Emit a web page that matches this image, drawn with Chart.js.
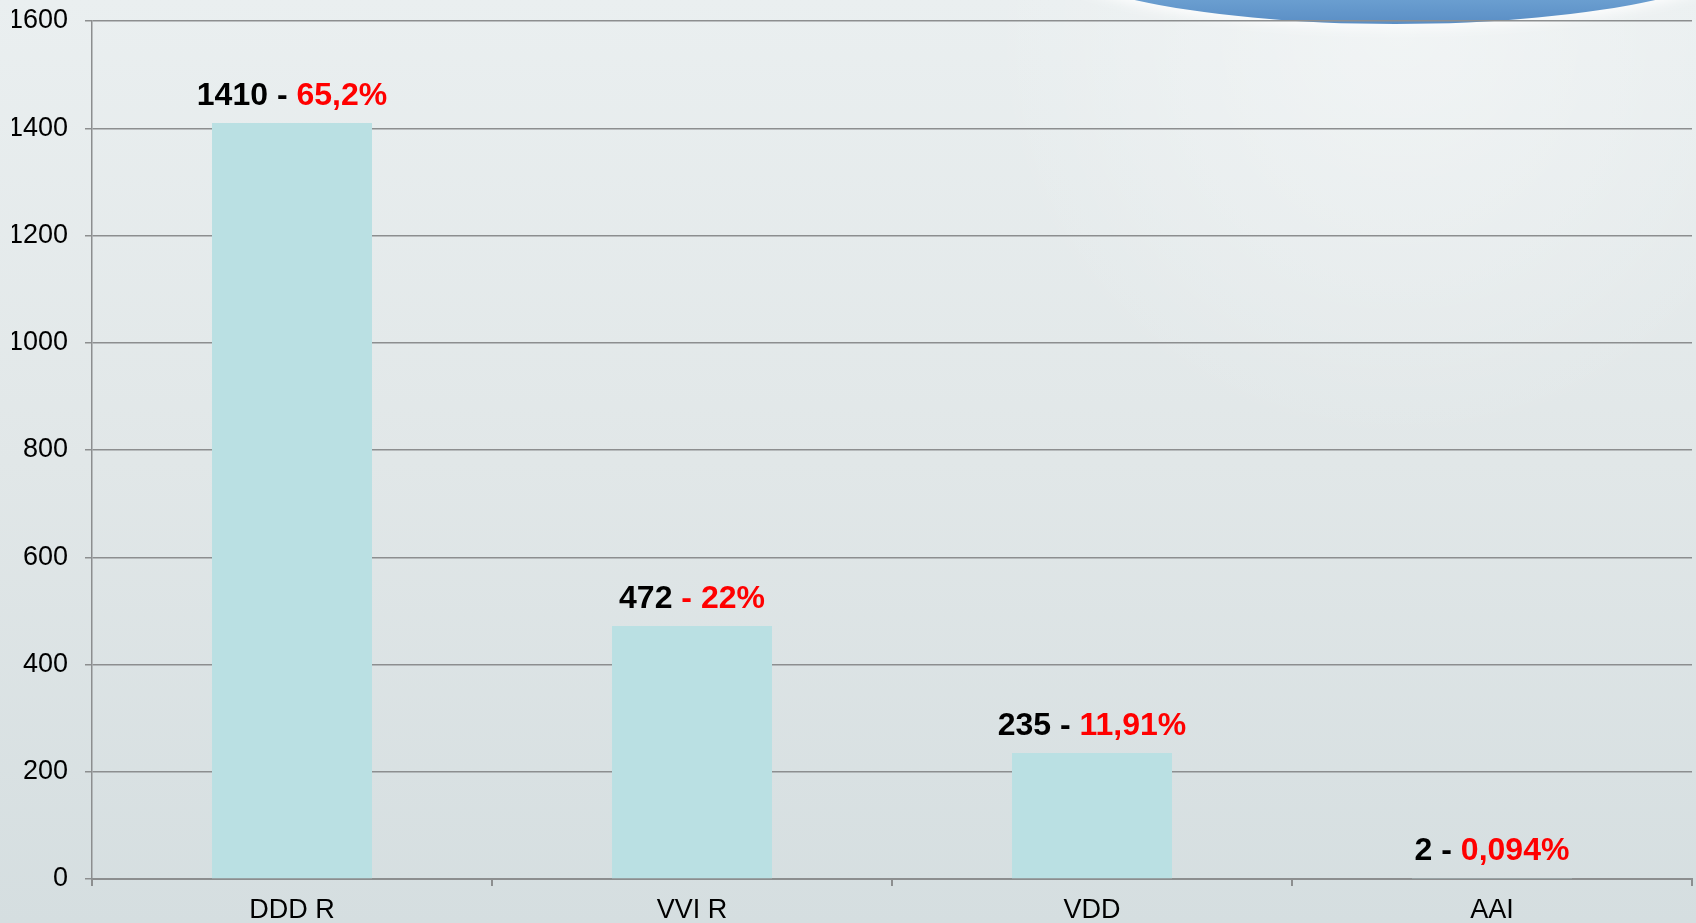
<!DOCTYPE html>
<html lang="en">
<head>
    <meta charset="UTF-8">
    <title>Stimulation modes</title>
    <script src="https://cdn.jsdelivr.net/npm/chart.js"></script>
    <style>
        body {
            margin: 0;
            padding: 0;
            overflow: hidden;
            background: #e2e8e9;
        }
        .wrap {
            width: 1696px;
            height: 923px;
        }
    </style>
</head>
<body>
    <div class="wrap">
        <canvas id="modesChart" width="1696" height="923"></canvas>
    </div>

    <script>
        // chart data
        const categories = ['DDD R', 'VVI R', 'VDD', 'AAI'];
        const counts = [1410, 472, 235, 2];
        const blackText = ['1410 - ', '472 ', '235 - ', '2 - '];
        const redText = ['65,2%', '- 22%', '11,91%', '0,094%'];
        const yTicks = [0, 200, 400, 600, 800, 1000, 1200, 1400, 1600];

        const FONT = "'Liberation Sans', Arial, sans-serif";
        const GRID = '#8c8e8f';

        // slide-like background with the blue shape at the top right
        const backdrop = {
            id: 'backdrop',
            beforeDraw(chart) {
                const c = chart.ctx;
                const w = chart.width, h = chart.height;
                c.save();
                let g = c.createLinearGradient(0, 0, 0, h);
                g.addColorStop(0, '#eaeff0');
                g.addColorStop(0.5, '#e1e7e8');
                g.addColorStop(1, '#d5dee0');
                c.fillStyle = g;
                c.fillRect(0, 0, w, h);

                let r = c.createRadialGradient(1400, 30, 10, 1400, 30, 420);
                r.addColorStop(0, 'rgba(255,255,255,0.35)');
                r.addColorStop(1, 'rgba(255,255,255,0)');
                c.fillStyle = r;
                c.fillRect(0, 0, w, h);

                c.shadowColor = 'rgba(255,255,255,0.9)';
                c.shadowBlur = 12;
                c.shadowOffsetY = 4;
                let b = c.createLinearGradient(0, 0, 0, 24);
                b.addColorStop(0, '#6a9ed0');
                b.addColorStop(1, '#5a8ec5');
                c.fillStyle = b;
                c.beginPath();
                c.ellipse(1395, -60, 372, 84, 0, 0, Math.PI * 2);
                c.fill();
                c.restore();
            }
        };

        // value - percent labels above the bars
        const barLabels = {
            id: 'barLabels',
            afterDatasetsDraw(chart) {
                const c = chart.ctx;
                const meta = chart.getDatasetMeta(0);
                c.save();
                c.font = 'bold 32px ' + FONT;
                c.textBaseline = 'alphabetic';
                c.textAlign = 'left';
                meta.data.forEach((bar, i) => {
                    const wb = c.measureText(blackText[i]).width;
                    const wr = c.measureText(redText[i]).width;
                    const x0 = bar.x - (wb + wr) / 2;
                    const y = bar.y - 18;
                    c.fillStyle = '#000000';
                    c.fillText(blackText[i], x0, y);
                    c.fillStyle = '#ff0000';
                    c.fillText(redText[i], x0 + wb, y);
                });
                c.restore();
            }
        };

        const ctx = document.getElementById('modesChart').getContext('2d');
        const chart = new Chart(ctx, {
            type: 'bar',
            data: {
                labels: categories,
                datasets: [{
                    data: counts,
                    backgroundColor: '#bae0e3',
                    borderWidth: 0,
                    categoryPercentage: 0.4,
                    barPercentage: 1.0
                }]
            },
            options: {
                responsive: false,
                animation: false,
                layout: { padding: { left: 12, right: 4, top: 21, bottom: 0 } },
                plugins: {
                    legend: { display: false },
                    tooltip: { enabled: false }
                },
                scales: {
                    x: {
                        offset: true,
                        grid: {
                            offset: true,
                            drawOnChartArea: false,
                            color: GRID,
                            lineWidth: 2,
                            tickLength: 7
                        },
                        border: { color: GRID, width: 2 },
                        ticks: {
                            color: '#000000',
                            font: { family: FONT, size: 27 },
                            padding: 8
                        },
                        afterFit(scale) { scale.height = 44; }
                    },
                    y: {
                        min: 0,
                        max: 1600,
                        afterBuildTicks(scale) {
                            scale.ticks = yTicks.map(v => ({ value: v }));
                        },
                        grid: {
                            color: GRID,
                            lineWidth: 1.5,
                            tickLength: 7
                        },
                        border: { color: GRID, width: 1.5 },
                        ticks: {
                            color: '#000000',
                            font: { family: FONT, size: 27 },
                            padding: 17,
                            callback: v => String(v)
                        },
                        afterFit(scale) {
                            scale.width = 80;
                            scale.paddingTop = 0;
                            scale.paddingBottom = 0;
                        }
                    }
                }
            },
            plugins: [backdrop, barLabels]
        });
    </script>
</body>
</html>
